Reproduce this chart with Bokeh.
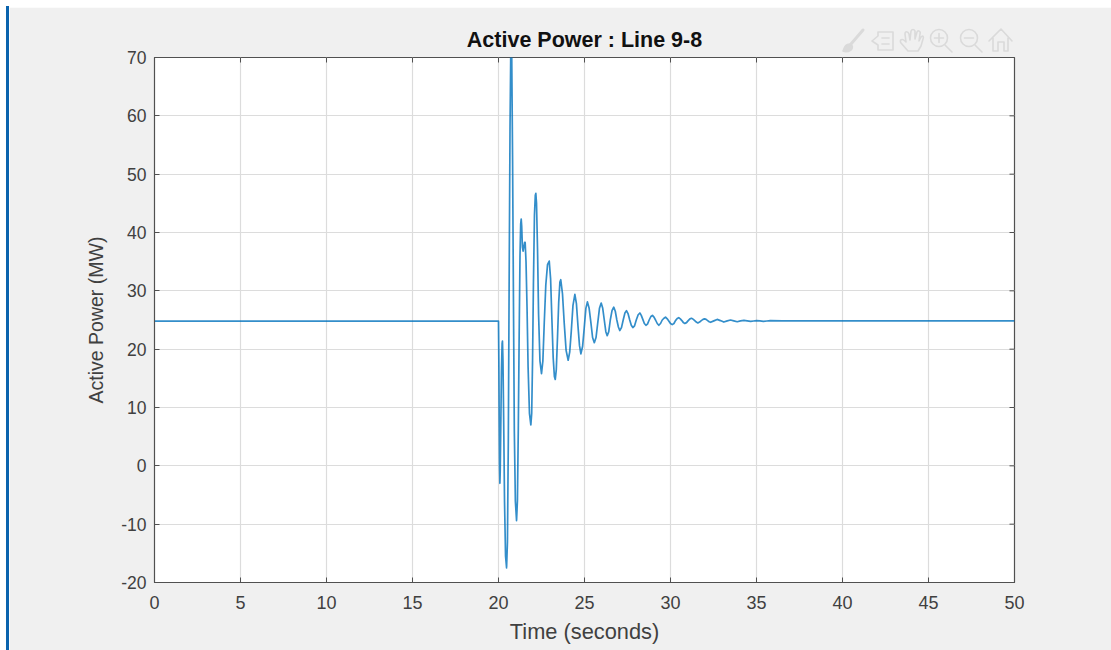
from bokeh.plotting import figure
from bokeh.layouts import row
from bokeh.models import FixedTicker, Range1d, Div
from bokeh.embed import file_html
from bokeh.resources import INLINE

title_text = "Active Power : Line 9-8"
x_label = "Time (seconds)"
y_label = "Active Power (MW)"
x_ticks = [0, 5, 10, 15, 20, 25, 30, 35, 40, 45, 50]
y_ticks = [-20, -10, 0, 10, 20, 30, 40, 50, 60, 70]

time_s = [
    0, 10, 19.98, 20.0, 20.02, 20.04, 20.06, 20.08, 20.1, 20.13, 20.17, 20.21, 20.23,
    20.26, 20.3, 20.35, 20.41, 20.47, 20.52, 20.57, 20.62, 20.67, 20.71, 20.74, 20.77,
    20.82, 20.87, 20.92, 20.98, 21.05, 21.1, 21.15, 21.2, 21.25, 21.29, 21.32,
    21.35, 21.39, 21.43, 21.47, 21.52, 21.55, 21.6, 21.66, 21.72, 21.8, 21.88,
    21.93, 21.98, 22.03, 22.09, 22.14, 22.17, 22.21, 22.27, 22.33, 22.41, 22.5,
    22.58, 22.66, 22.75, 22.85, 22.95, 23.03, 23.1, 23.18, 23.25, 23.3,
    23.36, 23.43, 23.5, 23.57, 23.62, 23.72, 23.82, 23.93, 24.05,
    24.14, 24.23, 24.33, 24.44, 24.53, 24.62, 24.71, 24.79,
    24.89, 24.98, 25.08, 25.17, 25.27, 25.37, 25.47, 25.57,
    25.67, 25.77, 25.87, 25.97, 26.06, 26.15, 26.24, 26.32,
    26.41, 26.5, 26.6, 26.7, 26.79, 26.88, 26.97, 27.05,
    27.15, 27.25, 27.35, 27.44, 27.53, 27.63, 27.72, 27.81,
    27.91, 28.01, 28.12, 28.22, 28.3, 28.39, 28.48, 28.57,
    28.66, 28.76, 28.86, 28.95, 29.04, 29.13, 29.23, 29.32,
    29.42, 29.52, 29.62, 29.71, 29.81, 29.91, 30.0, 30.1,
    30.2, 30.29, 30.39, 30.48, 30.57, 30.66, 30.75, 30.83,
    30.93, 31.03, 31.13, 31.22, 31.31, 31.41, 31.5, 31.59,
    31.69, 31.79, 31.89, 31.98, 32.07, 32.16, 32.25, 32.33,
    32.52, 32.71, 32.9, 33.1, 33.3, 33.49, 33.68, 33.88, 34.07, 34.27, 34.46, 34.66,
    34.83, 35.0, 35.2, 35.4, 35.6, 35.8, 36.5, 38, 40, 45, 50,
]
active_power_mw = [
    24.8, 24.8, 24.8, 24.8, 18, 8, 0, -3, -1, 6, 16, 21, 21.4,
    18, 8, -6, -15.5, -17.5, -13, 4, 32, 58, 70, 72.5, 70,
    52, 28, 6, -6, -9.4, -6, 6, 22, 36, 41.5, 42.3,
    41, 37.5, 36.8, 37.5, 38.3, 38.3, 35, 27, 17, 9, 7,
    9, 18, 31, 43, 46.4, 46.7, 45, 37, 26, 18, 15.8,
    18, 24.5, 31, 34.5, 35.1, 32, 25.5, 18.5, 15.3, 14.8,
    16.5, 22, 28, 31.5, 31.9, 29.5, 24.5, 19.8, 18.1,
    19.5, 23, 27.5, 29.4, 27.8, 24, 20.6, 19.2,
    20.5, 23.5, 27, 28.1, 27, 24.6, 22, 21.1,
    22, 24.5, 27, 27.9, 27, 25, 23, 22.3,
    23, 25, 26.6, 27.2, 26.5, 25, 23.8, 23.2,
    23.7, 25, 26.2, 26.6, 26.1, 25, 24.1, 23.7,
    24, 25, 25.9, 26.2, 25.8, 25.1, 24.4, 24.1,
    24.3, 25, 25.6, 25.8, 25.5, 25, 24.4, 24.1,
    24.4, 25, 25.3, 25.5, 25.2, 24.8, 24.4, 24.2,
    24.4, 24.9, 25.25, 25.4, 25.2, 24.9, 24.55, 24.4,
    24.55, 24.9, 25.2, 25.3, 25.15, 24.9, 24.65, 24.5,
    24.65, 24.9, 25.1, 25.2, 25.1, 24.9, 24.7, 24.6,
    24.85, 25.1, 24.9, 24.65, 24.85, 25.0, 24.85, 24.7, 24.85, 24.95, 24.85, 24.75,
    24.83, 24.9, 24.84, 24.78, 24.83, 24.88, 24.84, 24.84, 24.84, 24.84, 24.84,
]

DARK = "#404040"
FONT = "Liberation Sans"

p = figure(
    width=1102, height=643, output_backend="svg", toolbar_location=None,
    x_range=Range1d(x_ticks[0], x_ticks[-1]), y_range=Range1d(y_ticks[0], y_ticks[-1]),
    background_fill_color="white", border_fill_color="#f0f0f0",
    min_border_left=145, min_border_right=97, min_border_top=50, min_border_bottom=68,
    margin=(7, 0, 0, 9),
    title=title_text,
)
p.title.align = "center"
p.title.text_font = FONT
p.title.text_font_size = "21.5px"
p.title.text_font_style = "bold"
p.title.text_color = "#111111"
p.title.standoff = 12

p.outline_line_color = "#505050"
p.outline_line_width = 1.2

xa = p.xaxis[0]
ya = p.yaxis[0]
xa.ticker = FixedTicker(ticks=x_ticks)
ya.ticker = FixedTicker(ticks=y_ticks)
xa.axis_label = x_label
ya.axis_label = y_label
xa.major_label_overrides = {t: str(t) for t in x_ticks}
ya.major_label_overrides = {t: str(t) for t in y_ticks}
for a, tick_px, label_px in ((xa, "18px", "21.8px"), (ya, "17.5px", "19.5px")):
    a.major_tick_in = 5
    a.major_tick_out = 0
    a.minor_tick_in = 0
    a.minor_tick_out = 0
    a.axis_line_color = "#505050"
    a.major_tick_line_color = "#505050"
    a.major_label_text_font = FONT
    a.major_label_text_font_size = tick_px
    a.major_label_text_color = DARK
    a.axis_label_text_font = FONT
    a.axis_label_text_font_size = label_px
    a.axis_label_text_font_style = "normal"
    a.axis_label_text_color = DARK
xa.major_label_standoff = 13
ya.major_label_standoff = 8
xa.axis_label_standoff = 7
ya.axis_label_standoff = 11
ya.major_label_orientation = "horizontal"

p.grid.grid_line_color = "#dcdcdc"
p.grid.grid_line_width = 1.2

# ticks on the top and right edges of the box
tick_dx = (x_ticks[-1] - x_ticks[0]) * 5 / 860
tick_dy = (y_ticks[-1] - y_ticks[0]) * 5 / 525
p.segment(x_ticks, [y_ticks[-1]] * len(x_ticks), x_ticks, [y_ticks[-1] - tick_dy] * len(x_ticks),
          line_color="#505050", line_width=1)
p.segment([x_ticks[-1]] * len(y_ticks), y_ticks, [x_ticks[-1] - tick_dx] * len(y_ticks), y_ticks,
          line_color="#505050", line_width=1)

p.line(time_s, active_power_mw, line_color="#0072BD", line_alpha=0.8, line_width=1.7, line_join="round")

# left window stripe and the faint figure-toolbar icons, at page positions
overlay_svg = """
<svg style="position:fixed;left:0;top:0;pointer-events:none;z-index:5" width="1111" height="650" xmlns="http://www.w3.org/2000/svg">
<rect x="6" y="6" width="3" height="644" fill="#0a63ad"/>
<g fill="none" stroke="#dadada" stroke-width="1.6" stroke-linejoin="round" stroke-linecap="round">
<path d="M863 30 L851 44" stroke-width="3"/>
<path d="M843 51 C845 46 846 44 850 44 C853 45 853 48 851 50 C848 52 845 52 843 51Z" fill="#dadada"/>
<path d="M878 32 H893 V50 H878 V45 L872 41 L878 36Z"/>
<path d="M882 38 H889 M882 44 H889" />
<path d="M908 51 L901 43 C899 40 902 38 905 41 L906 42 L905 34 C905 31 908 31 909 34 L910 40 L911 31 C912 29 914 29 915 31 L915 39 L917 32 C918 30 921 31 920 34 L919 41 L921 37 C923 35 924 37 923 39 L921 46 L918 51Z"/>
<circle cx="939" cy="38" r="8.5"/><path d="M945 45 L952 52 M934.5 38 H943.5 M939 33.5 V42.5"/>
<circle cx="969" cy="38" r="8.5"/><path d="M975 45 L982 52 M964.5 38 H973.5"/>
<path d="M989 41 L1001 29 L1012 41 M993 38 V51 H998 V42 H1004 V51 H1008 V38"/>
</g></svg>
"""
overlay = Div(text=overlay_svg, width=0, height=0, margin=0)

page = row(p, overlay, margin=0)
open("out.html", "w").write(file_html(page, INLINE))
